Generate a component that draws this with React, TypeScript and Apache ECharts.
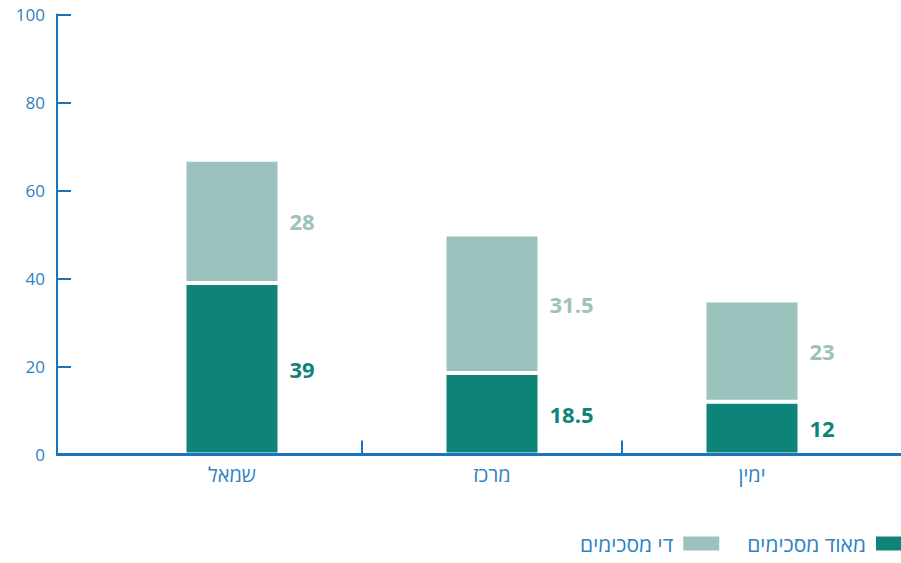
import React, { useEffect, useRef } from "react";
import * as echarts from "echarts";

const categories = ["שמאל", "מרכז", "ימין"];
const seriesNames = ["מאוד מסכימים", "די מסכימים"];
const veryAgree = [39, 18.5, 12];
const somewhatAgree = [28, 31.5, 23];
const yMin = 0;
const yMax = 100;
const yStep = 20;

const DARK = "#0e8479";
const LIGHT = "#9cc2be";
const AXIS = "#1a75bc";
const TEXT = "#2f82c4";
const FONT = "'Open Sans', 'Noto Sans', 'DejaVu Sans', sans-serif";

const GRID_LEFT = 102;
const GRID_RIGHT = 19;
const Y_OFFSET = 45;

export default function App() {
  const ref = useRef<HTMLDivElement>(null);
  useEffect(() => {
    document.body.style.margin = "0";
    const chart = echarts.init(ref.current!, null, { renderer: "svg" });
    const makeLabel = (color: string) => ({
      show: true,
      position: "right",
      distance: 10,
      color,
      fontFamily: FONT,
      fontWeight: "bold",
      fontSize: 22,
    });
    chart.setOption({
      animation: false,
      grid: { left: GRID_LEFT, right: GRID_RIGHT, top: 14.5, bottom: 108.5 },
      xAxis: {
        type: "category",
        data: categories,
        axisLine: { show: false },
        axisTick: { show: false },
        axisLabel: { color: TEXT, fontSize: 20, fontFamily: FONT, margin: 10 },
      },
      yAxis: {
        type: "value",
        min: yMin,
        max: yMax,
        interval: yStep,
        offset: Y_OFFSET,
        axisLine: { show: true, lineStyle: { color: AXIS, width: 2 } },
        axisTick: { show: true, inside: true, length: 14, lineStyle: { color: AXIS, width: 2 } },
        axisLabel: { color: TEXT, fontSize: 17, fontFamily: FONT, margin: 12 },
        splitLine: { show: false },
      },
      legend: {
        data: [seriesNames[1], seriesNames[0]],
        align: "right",
        right: -18,
        bottom: 4,
        itemWidth: 38,
        itemHeight: 16,
        itemGap: 26,
        icon: "rect",
        textStyle: { color: TEXT, fontSize: 21, fontFamily: FONT, padding: [0, 4, 0, 0] },
      },
      series: [
        {
          name: seriesNames[0],
          type: "bar",
          stack: "total",
          barWidth: 95,
          data: veryAgree,
          itemStyle: { color: DARK, borderColor: "#ffffff", borderWidth: 2 },
          label: makeLabel(DARK),
        },
        {
          name: seriesNames[1],
          type: "bar",
          stack: "total",
          barWidth: 95,
          data: somewhatAgree,
          itemStyle: { color: LIGHT, borderColor: "#ffffff", borderWidth: 2 },
          label: makeLabel(LIGHT),
        },
      ],
    });

    const y0 = chart.convertToPixel({ yAxisIndex: 0 }, yMin) as number;
    const centers = categories.map((c) => chart.convertToPixel({ xAxisIndex: 0 }, c) as number);
    const width = chart.getWidth();
    const graphics: any[] = [
      {
        type: "line",
        shape: { x1: GRID_LEFT - Y_OFFSET - 1, y1: y0, x2: width, y2: y0 },
        style: { stroke: AXIS, lineWidth: 3 },
        z: 10,
      },
    ];
    for (let i = 0; i < centers.length - 1; i++) {
      const bx = Math.round((centers[i] + centers[i + 1]) / 2);
      graphics.push({
        type: "line",
        shape: { x1: bx, y1: y0, x2: bx, y2: y0 - 14 },
        style: { stroke: AXIS, lineWidth: 2 },
        z: 10,
      });
    }
    chart.setOption({ graphic: graphics });
    return () => chart.dispose();
  }, []);
  return <div ref={ref} style={{ width: 901, height: 563 }} />;
}
